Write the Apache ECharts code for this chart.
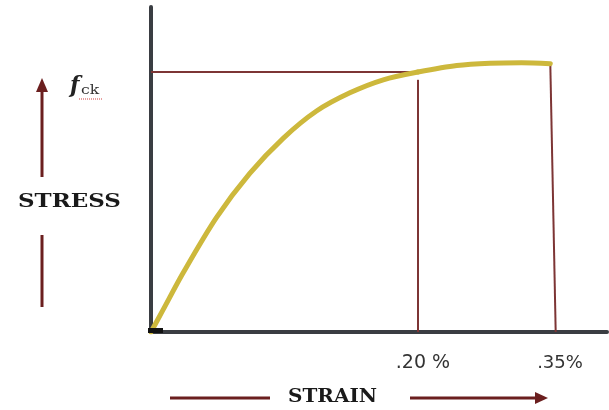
<!DOCTYPE html>
<html>
<head>
<meta charset="utf-8">
<script src="https://cdn.jsdelivr.net/npm/echarts@6/dist/echarts.min.js"></script>
<style>html,body{margin:0;padding:0;background:#fff;}#c{width:609px;height:410px;}</style>
</head>
<body>
<div id="c"></div>
<script>
// Rising (parabolic) part of the stress-strain curve, strain in %
const strainRise = [0, 0.009, 0.024, 0.049, 0.074, 0.099, 0.124, 0.149, 0.174, 0.2];
const stressRise = [0, 0.085, 0.227, 0.44, 0.61, 0.745, 0.85, 0.92, 0.97, 1.0];
// Flat part (drawn on its own strain scale)
const strainFlat = [0.2, 0.243, 0.28, 0.315, 0.347];
const stressFlat = [1.0, 1.025, 1.034, 1.036, 1.032];
// Guide values
const fck = 1.0;
const peakStrain = 0.2;
const peakGuideTop = 0.97;
const ultStrainTop = 0.347, ultStrainBottom = 0.353, ultGuideTop = 1.032;
// Tick labels
const tick1Values = [0.2];
const tick1Labels = ['.20 %'];
const tick2Values = [0.35];
const tick2Labels = ['.35%'];

const pairs = (xs, ys) => xs.map((x, i) => [x, ys[i]]);

const axisColor = '#3a3d42';
const guideColor = '#7d3535';
const curveColor = '#cdb83c';
const arrowColor = '#6b1f1f';

const chart = echarts.init(document.getElementById('c'), null, {renderer: 'canvas'});
chart.setOption({
  animation: false,
  backgroundColor: '#fff',
  grid: {left: 151, right: 2, top: 7, bottom: 78},
  xAxis: [
    {
      type: 'value', min: 0, max: 0.3416, position: 'bottom',
      axisLine: {show: true, onZero: false, lineStyle: {color: axisColor, width: 4}},
      axisTick: {show: false}, splitLine: {show: false},
      axisLabel: {
        customValues: tick1Values, margin: 22, padding: [0, 0, 0, 10],
        fontFamily: 'DejaVu Sans', fontSize: 19, color: '#333',
        formatter: v => tick1Labels[tick1Values.indexOf(v)] ?? ''
      }
    },
    {
      type: 'value', min: -0.0967, max: 0.41, position: 'bottom',
      axisLine: {show: false, onZero: false},
      axisTick: {show: false}, splitLine: {show: false},
      axisLabel: {
        customValues: tick2Values, margin: 22, padding: [0, 0, 0, 14],
        fontFamily: 'DejaVu Sans', fontSize: 18, color: '#333',
        formatter: v => tick2Labels[tick2Values.indexOf(v)] ?? ''
      }
    }
  ],
  yAxis: {
    type: 'value', min: 0, max: 1.25,
    axisLine: {show: true, onZero: false, lineStyle: {color: axisColor, width: 4}},
    axisTick: {show: false}, axisLabel: {show: false}, splitLine: {show: false}
  },
  series: [
    {type: 'line', xAxisIndex: 0, data: [[0, fck], [peakStrain, fck]], symbol: 'none',
     lineStyle: {color: guideColor, width: 2}, z: 2},
    {type: 'line', xAxisIndex: 0, data: [[peakStrain, 0], [peakStrain, peakGuideTop]], symbol: 'none',
     lineStyle: {color: guideColor, width: 2}, z: 2},
    {type: 'line', xAxisIndex: 1, data: [[ultStrainBottom, 0], [ultStrainTop, ultGuideTop]], symbol: 'none',
     lineStyle: {color: guideColor, width: 2}, z: 2},
    {type: 'line', xAxisIndex: 0, data: pairs(strainRise, stressRise), symbol: 'none', smooth: 0.3,
     lineStyle: {color: curveColor, width: 5, cap: 'round'}, z: 3},
    {type: 'line', xAxisIndex: 1, data: pairs(strainFlat, stressFlat), symbol: 'none', smooth: 0.3,
     lineStyle: {color: curveColor, width: 5, cap: 'round'}, z: 3}
  ],
  graphic: [
    {type: 'rect', shape: {x: 148, y: 328, width: 15, height: 5}, style: {fill: '#111'}, z: 10},
    // up arrow (stress)
    {type: 'line', shape: {x1: 42, y1: 88, x2: 42, y2: 177}, style: {stroke: arrowColor, lineWidth: 3}},
    {type: 'polygon', shape: {points: [[42, 78], [36, 92], [48, 92]]}, style: {fill: arrowColor}},
    {type: 'line', shape: {x1: 42, y1: 235, x2: 42, y2: 307}, style: {stroke: arrowColor, lineWidth: 3}},
    {type: 'text', x: 70, y: 86, style: {text: 'f', font: 'italic bold 22px "DejaVu Serif"', fill: '#222', textVerticalAlign: 'middle'}},
    {type: 'text', x: 81, y: 91, scaleX: 1.2, originX: 0, originY: 0,
     style: {text: 'ck', font: '13px "DejaVu Serif"', fill: '#333', textVerticalAlign: 'middle'}},
    {type: 'line', shape: {x1: 79, y1: 99, x2: 103, y2: 99}, style: {stroke: '#d04040', lineWidth: 1, lineDash: [1, 1]}},
    {type: 'text', x: 18, y: 202, scaleX: 1.275, originX: 0, originY: 0,
     style: {text: 'STRESS', font: 'bold 18px "DejaVu Serif"', fill: '#1a1a1a', textVerticalAlign: 'middle'}},
    // strain arrow
    {type: 'line', shape: {x1: 170, y1: 398, x2: 270, y2: 398}, style: {stroke: arrowColor, lineWidth: 3}},
    {type: 'text', x: 288, y: 397, scaleX: 1.11, originX: 0, originY: 0,
     style: {text: 'STRAIN', font: 'bold 18px "DejaVu Serif"', fill: '#1a1a1a', textVerticalAlign: 'middle'}},
    {type: 'line', shape: {x1: 410, y1: 398, x2: 538, y2: 398}, style: {stroke: arrowColor, lineWidth: 3}},
    {type: 'polygon', shape: {points: [[548, 398], [535, 392], [535, 404]]}, style: {fill: arrowColor}}
  ]
});
</script>
</body>
</html>
